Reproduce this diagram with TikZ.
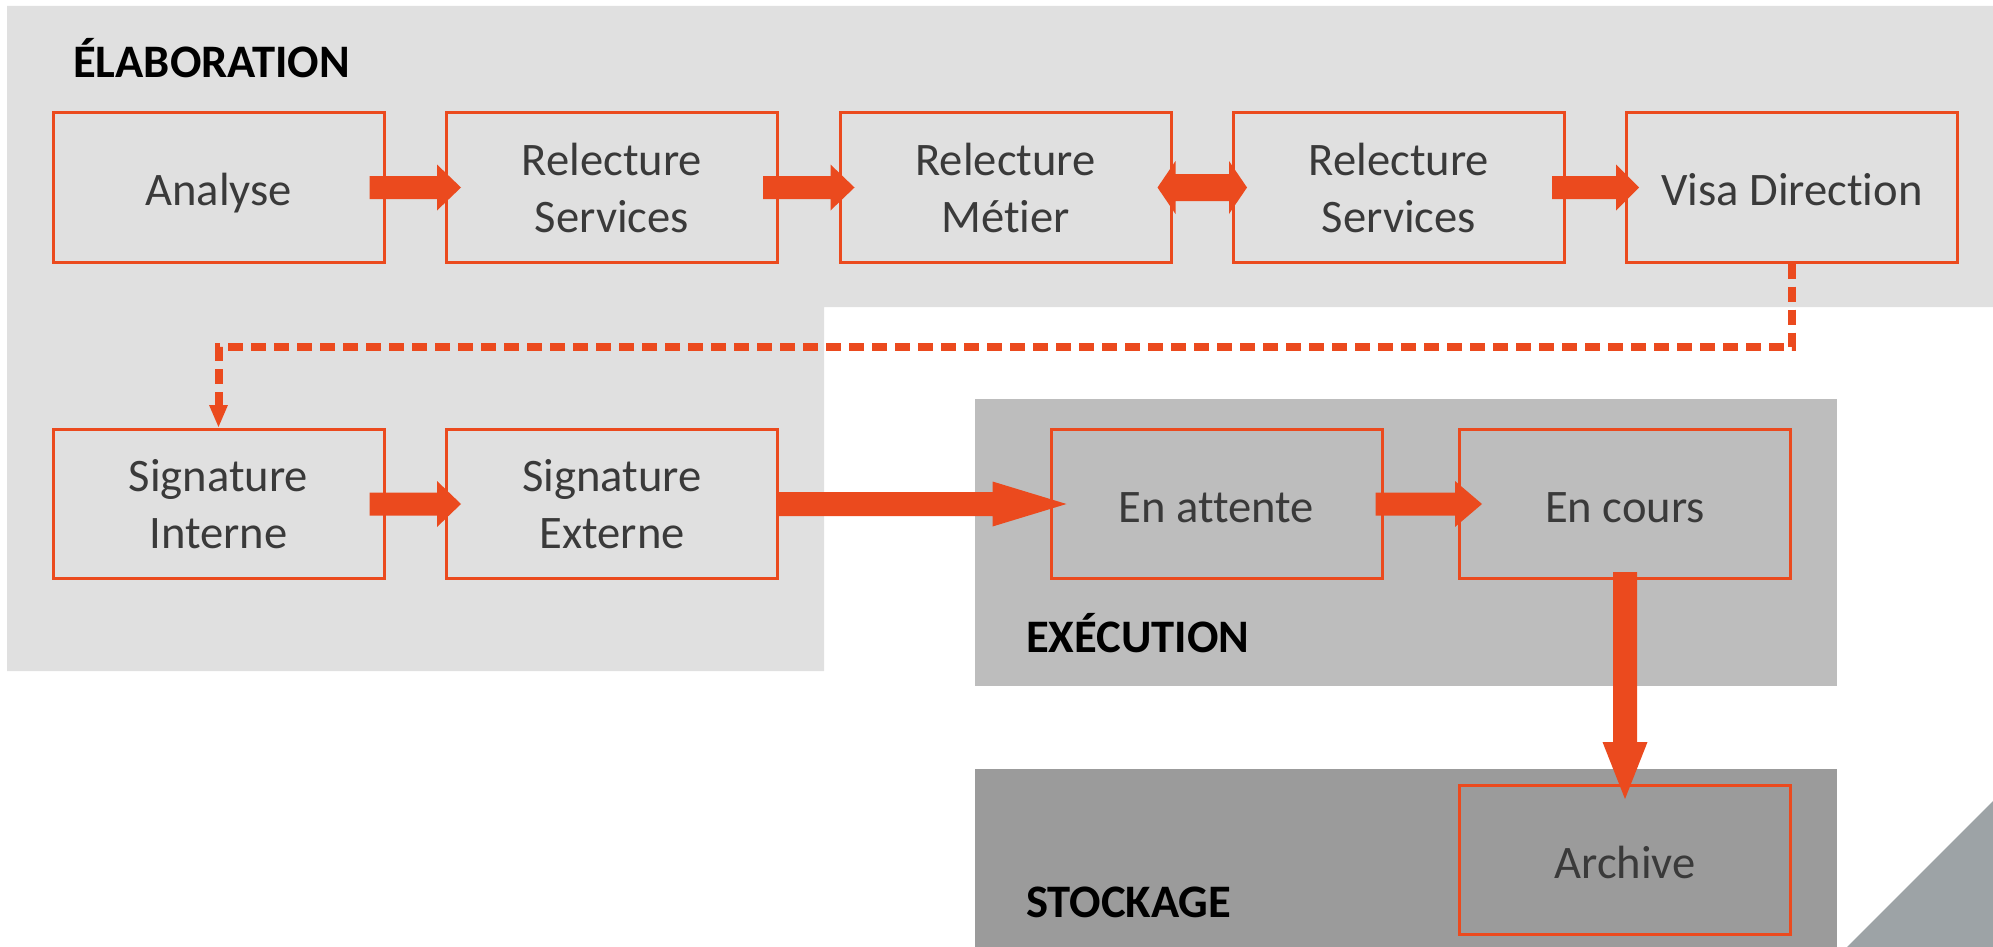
\documentclass[tikz,border=0pt]{standalone}
\usepackage{fontspec}
\setmainfont[Ligatures={NoCommon}]{Carlito}
\usetikzlibrary{calc,arrows.meta}
\definecolor{org}{HTML}{EB4A1E}
\definecolor{elabc}{HTML}{E0E0E0}
\definecolor{execc}{HTML}{BDBDBD}
\definecolor{stockc}{HTML}{9B9B9B}
\definecolor{tric}{HTML}{9DA3A6}
\definecolor{txtc}{HTML}{3A3A3A}
% horizontal block arrow: start, tip, head length, shaft half-height, head half-height
\newcommand\harr[5]{\fill[org] ($(#1)+(0,-#4)$) -- ($(#2)+(-#3,-#4)$) -- ($(#2)+(-#3,-#5)$) -- (#2) -- ($(#2)+(-#3,#5)$) -- ($(#2)+(-#3,#4)$) -- ($(#1)+(0,#4)$) -- cycle;}
\begin{document}
\begin{tikzpicture}[x=1pt,y=-1pt,
  box/.style={draw=org, line width=3pt, minimum width=331pt, minimum height=149pt, inner sep=0pt, align=center, text=txtc, font=\fontsize{46.6}{57}\selectfont},
  oneline/.style={box, text height=46.5pt, text depth=10pt},
  twoline/.style={box, yshift=1.5pt},
  zonelabel/.style={anchor=base west, inner sep=0pt, text=black, font=\fontsize{46.6}{57}\selectfont\bfseries},
  dashconn/.style={draw=org, line width=8pt, dash pattern=on 15pt off 8pt, -{Triangle[length=23pt,width=17pt]}}]
\useasboundingbox (0,0) rectangle (1993,947);
% zones
\fill[elabc] (7,6) -- (1993,6) -- (1993,307) -- (824,307) -- (824,671) -- (7,671) -- cycle;
\fill[execc] (975,399) rectangle (1837,686);
\fill[stockc] (975,769) rectangle (1837,947);
\fill[tric] (1847,947) -- (1993,801) -- (1993,947) -- cycle;
% zone labels
\node[zonelabel] (lelab) at (73,78) {ÉLABORATION};
\node[zonelabel] (lexec) at (1026,652) {EXÉCUTION};
\node[zonelabel] (lstock) at (1026,917) {STOCKAGE};
% boxes
\node[oneline] (n1) at (218.5,187.5) {Analyse};
\node[box] (n2) at (612,187.5) {Relecture\\Services};
\node[box] (n3) at (1005.5,187.5) {Relecture\\Métier};
\node[box] (n4) at (1399,187.5) {Relecture\\Services};
\node[oneline] (n5) at (1792,187.5) {Visa Direction};
\node[box] (si) at (218.5,504) {Signature\\Interne};
\node[box] (se) at (612,504) {Signature\\Externe};
\node[oneline] (ea) at (1216.5,504) {En attente};
\node[oneline] (ec) at (1625,504) {En cours};
\node[oneline] (ar) at (1625,860) {Archive};
% arrow anchor points
\coordinate (a1) at ([xshift=-16pt]n1.east); \coordinate (b1) at ([xshift=16pt]n2.west);
\coordinate (a2) at ([xshift=-16pt]n2.east); \coordinate (b2) at ([xshift=16pt]n3.west);
\coordinate (a4) at ([xshift=-14pt]n4.east); \coordinate (b4) at ([xshift=14pt]n5.west);
\coordinate (a5) at ([xshift=-16pt]si.east); \coordinate (b5) at ([xshift=16pt]se.west);
\coordinate (a6) at (se.east); \coordinate (b6) at ([xshift=17pt]ea.west);
\coordinate (a7) at ([xshift=-8pt]ea.east); \coordinate (b7) at ([xshift=24pt]ec.west);
\coordinate (l3) at ([xshift=-15pt]n3.east); \coordinate (r3) at ([xshift=15pt]n4.west);
\coordinate (a8) at ([yshift=8pt]ec.south); \coordinate (b8) at ([yshift=-15pt]ar.north);
\coordinate (dl) at (0,347);
% connectors
\harr{a1}{b1}{24}{11.5}{23}
\harr{a2}{b2}{24}{11.5}{23}
\harr{a4}{b4}{23}{11.5}{23}
\harr{a5}{b5}{24}{11.5}{23}
\harr{a6}{b6}{74}{12}{22.5}
\harr{a7}{b7}{27}{11.5}{23}
% double arrow n3 <-> n4
\fill[org] (l3) -- ($(l3)+(18,-26.5)$) -- ($(l3)+(18,-13.5)$) -- ($(r3)+(-18,-13.5)$) -- ($(r3)+(-18,-26.5)$) -- (r3) -- ($(r3)+(-18,26.5)$) -- ($(r3)+(-18,13.5)$) -- ($(l3)+(18,13.5)$) -- ($(l3)+(18,26.5)$) -- cycle;
% vertical arrow ec -> ar
\fill[org] ($(a8)+(-12,0)$) -- ($(b8)+(-12,-57)$) -- ($(b8)+(-22.5,-57)$) -- (b8) -- ($(b8)+(22.5,-57)$) -- ($(b8)+(12,-57)$) -- ($(a8)+(12,0)$) -- cycle;
% dashed connector
\draw[dashconn] (n5.south) |- (si.north |- dl) -- (si.north);
\end{tikzpicture}
\end{document}
